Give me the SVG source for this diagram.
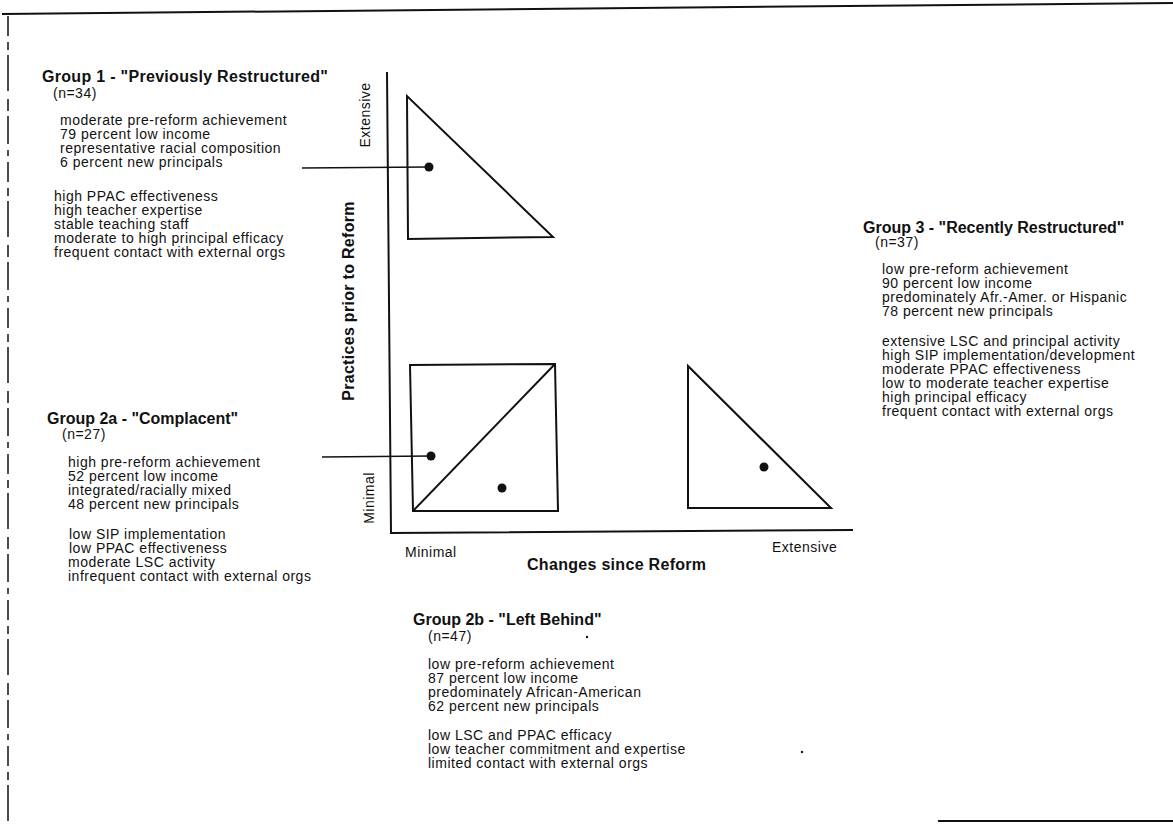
<svg xmlns="http://www.w3.org/2000/svg" width="1173" height="824" viewBox="0 0 1173 824">
<style>
text{font-family:"Liberation Sans",Arial,sans-serif;fill:#111}
.t{font-size:16px;font-weight:bold}
.b{font-size:14px;letter-spacing:0.5px}
.ax{font-size:16px;font-weight:bold;letter-spacing:0.3px}
.shape{fill:none;stroke:#111;stroke-width:2;stroke-linejoin:miter}
.lead{fill:none;stroke:#111;stroke-width:1.5}
.dot{fill:#111}
</style>
<rect width="1173" height="824" fill="#fff"/>
<g id="frame">
<line x1="2" y1="14" x2="1173" y2="3" stroke="#111" stroke-width="2"/>
<line x1="8" y1="16" x2="8" y2="824" stroke="#111" stroke-width="1.5" stroke-dasharray="20 6 8 5 36 8 12 5 28 6 6 6"/>
<line x1="938" y1="821" x2="1173" y2="821" stroke="#111" stroke-width="2"/>
</g>
<g id="chart">
<path class="shape" d="M387 72 L391 533 L853 530"/>
<polygon class="shape" points="407,96 408,239 553,237"/>
<polygon class="shape" points="410,365 555,364 558,511 413,511"/>
<line class="shape" x1="413" y1="511" x2="555" y2="364"/>
<polygon class="shape" points="688,366 688,508 831,508"/>
<circle class="dot" cx="429" cy="167" r="4.5"/>
<circle class="dot" cx="431" cy="456" r="4.5"/>
<circle class="dot" cx="502" cy="488" r="4.5"/>
<circle class="dot" cx="764" cy="467" r="4.5"/>
<text class="b" transform="translate(370,115) rotate(-90)" text-anchor="middle">Extensive</text>
<text class="b" transform="translate(374,498) rotate(-90)" text-anchor="middle">Minimal</text>
<text class="ax" transform="translate(354,301) rotate(-90)" text-anchor="middle">Practices prior to Reform</text>
<text class="b" x="405" y="557">Minimal</text>
<text class="b" x="772" y="552">Extensive</text>
<text class="ax" x="527" y="570">Changes since Reform</text>
</g>
<g id="connectors">
<line class="lead" x1="302" y1="168" x2="429" y2="167"/>
<line class="lead" x1="322" y1="457" x2="431" y2="456"/>
</g>
<g id="group1">
<text class="t" x="42" y="82" letter-spacing="0.3">Group 1 - "Previously Restructured"</text>
<text class="b" x="53" y="98">(n=34)</text>
<text class="b" x="60" y="125">moderate pre-reform achievement</text>
<text class="b" x="60" y="139">79 percent low income</text>
<text class="b" x="60" y="153">representative racial composition</text>
<text class="b" x="60" y="167">6 percent new principals</text>
<text class="b" x="54" y="201">high PPAC effectiveness</text>
<text class="b" x="54" y="215">high teacher expertise</text>
<text class="b" x="54" y="229">stable teaching staff</text>
<text class="b" x="54" y="243">moderate to high principal efficacy</text>
<text class="b" x="54" y="257">frequent contact with external orgs</text>
</g>
<g id="group2a">
<text class="t" x="47" y="424">Group 2a - "Complacent"</text>
<text class="b" x="62" y="439">(n=27)</text>
<text class="b" x="68" y="467">high pre-reform achievement</text>
<text class="b" x="68" y="481">52 percent low income</text>
<text class="b" x="68" y="495">integrated/racially mixed</text>
<text class="b" x="68" y="509">48 percent new principals</text>
<text class="b" x="69" y="539">low SIP implementation</text>
<text class="b" x="69" y="553">low PPAC effectiveness</text>
<text class="b" x="68" y="567">moderate LSC activity</text>
<text class="b" x="68" y="581">infrequent contact with external orgs</text>
</g>
<g id="group2b">
<text class="t" x="413" y="625">Group 2b - "Left Behind"</text>
<text class="b" x="428" y="641">(n=47)</text>
<circle class="dot" cx="587" cy="637" r="1.2"/>
<text class="b" x="428" y="669">low pre-reform achievement</text>
<text class="b" x="428" y="683">87 percent low income</text>
<text class="b" x="428" y="697">predominately African-American</text>
<text class="b" x="428" y="711">62 percent new principals</text>
<text class="b" x="428" y="740">low LSC and PPAC efficacy</text>
<text class="b" x="428" y="754">low teacher commitment and expertise</text>
<text class="b" x="428" y="768">limited contact with external orgs</text>
<circle class="dot" cx="802" cy="752" r="1.2"/>
</g>
<g id="group3">
<text class="t" x="863" y="233">Group 3 - "Recently Restructured"</text>
<text class="b" x="875" y="247">(n=37)</text>
<text class="b" x="882" y="274">low pre-reform achievement</text>
<text class="b" x="882" y="288">90 percent low income</text>
<text class="b" x="882" y="302">predominately Afr.-Amer. or Hispanic</text>
<text class="b" x="882" y="316">78 percent new principals</text>
<text class="b" x="882" y="346">extensive LSC and principal activity</text>
<text class="b" x="882" y="360">high SIP implementation/development</text>
<text class="b" x="882" y="374">moderate PPAC effectiveness</text>
<text class="b" x="882" y="388">low to moderate teacher expertise</text>
<text class="b" x="882" y="402">high principal efficacy</text>
<text class="b" x="882" y="416">frequent contact with external orgs</text>
</g>
</svg>
